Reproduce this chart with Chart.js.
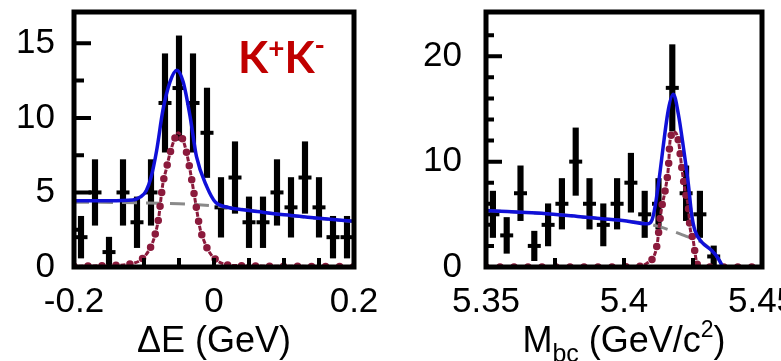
<!DOCTYPE html>
<html>
<head>
<meta charset="utf-8">
<script src="https://cdn.jsdelivr.net/npm/chart.js@4.4.1/dist/chart.umd.min.js"></script>
<style>
  html, body { margin: 0; padding: 0; background: #fff; }
  #wrap { position: relative; width: 781px; height: 361px; overflow: hidden; }
  canvas { position: absolute; top: 0; }
  #cDE { left: 0; }
  #cMbc { left: 390px; }
</style>
</head>
<body>
<div id="wrap">
  <canvas id="cDE" width="390" height="361"></canvas>
  <canvas id="cMbc" width="391" height="361"></canvas>
</div>
<script>
// ---- Delta E panel ----
var dEBins = [-0.19, -0.17, -0.15, -0.13, -0.11, -0.09, -0.07, -0.05, -0.03, -0.01,
              0.01, 0.03, 0.05, 0.07, 0.09, 0.11, 0.13, 0.15, 0.17, 0.19];
var dECounts = [2, 5, 1, 5, 3, 5, 11, 12, 11, 9, 4, 6, 3, 3, 5, 4, 6, 4, 2, 2];
var dEErr = [1.4, 2.2, 1.0, 2.2, 1.7, 2.2, 3.3, 3.5, 3.3, 3.0, 2.0, 2.4, 1.7, 1.7, 2.2, 2.0, 2.4, 2.0, 1.4, 1.4];

// total fit (blue)
var dETotalX = [-0.2, -0.15, -0.116, -0.105, -0.097, -0.09, -0.082, -0.073, -0.063, -0.053, -0.044,
                -0.034, -0.025, -0.01, 0.002, 0.019, 0.038, 0.062, 0.086, 0.11, 0.134, 0.158, 0.2];
var dETotalY = [4.45, 4.45, 4.5, 4.7, 5.1, 6.0, 7.8, 10.5, 12.4, 13.2, 12.4,
                10.05, 7.4, 5.36, 4.35, 4.01, 3.86, 3.72, 3.57, 3.46, 3.34, 3.23, 3.07];
// signal (dark red)
var dESigX = [-0.2, -0.15, -0.12, -0.1, -0.088, -0.084, -0.079, -0.076, -0.073, -0.068, -0.063, -0.057, -0.051,
              -0.046, -0.042, -0.037, -0.032, -0.027, -0.02, -0.013, -0.008, 0.0, 0.014, 0.03, 0.1, 0.2];
var dESigY = [0.05, 0.1, 0.2, 0.66, 1.6, 2.2, 3.3, 4.5, 5.6, 6.6, 7.6, 8.5, 9.0,
              8.7, 8.2, 7.2, 5.9, 4.5, 2.6, 1.6, 1.1, 0.6, 0.2, 0.1, 0.05, 0.02];
// background (grey dashed)
var dEBkgX = [-0.2, -0.1, -0.05, 0.0, 0.02, 0.05, 0.1, 0.15, 0.2];
var dEBkgY = [4.35, 4.3, 4.24, 4.1, 4.0, 3.8, 3.5, 3.25, 3.05];

var dEXTicks = [-0.2, 0, 0.2];
var dEYTicks = [0, 5, 10, 15];
var dEXMinor = [-0.15, -0.1, -0.05, 0, 0.05, 0.1, 0.15];
var dEYMajor = [5, 10, 15];
var dEYMinor = [2.5, 7.5, 12.5];

// ---- Mbc panel ----
var mbcBins = [5.3525, 5.3575, 5.3625, 5.3675, 5.3725, 5.3775, 5.3825, 5.3875, 5.3925,
               5.3975, 5.4025, 5.4075, 5.4125, 5.4175, 5.4225, 5.4275, 5.4325];
var mbcCounts = [5, 3, 7, 2, 4, 6, 10, 6, 4, 6, 8, 5, 6, 17, 7, 5, 1];
var mbcErr = [2.2, 1.7, 2.6, 1.4, 2.0, 2.4, 3.2, 2.4, 2.0, 2.4, 2.8, 2.2, 2.4, 4.1, 2.6, 2.2, 1.0];

var mbcTotalX = [5.35, 5.373, 5.385, 5.3995, 5.4085, 5.4102, 5.4179, 5.4197, 5.4215, 5.4233,
                 5.4245, 5.4257, 5.4282, 5.4318, 5.4342, 5.4358];
var mbcTotalY = [5.36, 5.04, 4.75, 4.41, 4.1, 4.5, 16.4, 14.5, 11.4, 7.9,
                 5.0, 3.46, 2.35, 1.56, 0.78, 0];
var mbcSigX = [5.35, 5.37, 5.39, 5.405, 5.4088, 5.4112, 5.4122, 5.413, 5.4137, 5.4149, 5.4161, 5.4167,
               5.4182, 5.4197, 5.4209, 5.4221, 5.4233, 5.4239, 5.4251, 5.4257, 5.4263, 5.4275, 5.44, 5.45];
var mbcSigY = [0, 0, 0, 0.05, 0.45, 1.25, 2.5, 4.4, 5.7, 7.25, 9.5, 12.0,
               12.8, 12.0, 9.5, 7.25, 5.7, 3.8, 2.5, 1.4, 0.45, 0, 0, 0];
var mbcBkgX = [5.35, 5.373, 5.385, 5.3995, 5.4085, 5.4124, 5.4203, 5.4257, 5.4282, 5.4318, 5.4342, 5.4358];
var mbcBkgY = [5.36, 5.04, 4.75, 4.41, 4.1, 3.85, 3.15, 2.6, 2.35, 1.56, 0.78, 0];

var mbcXTicks = [5.35, 5.4, 5.45];
var mbcYTicks = [0, 10, 20];
var mbcXMinor = [5.375, 5.4, 5.425];
var mbcYMajor = [10, 20];
var mbcYMinor = [2, 4, 6, 8, 12, 14, 16, 18, 22];

var FONT = "'Liberation Sans', Arial, Helvetica, sans-serif";
var BLUE = '#1010d8';
var MAROON = '#8b1a3c';
var GREY = '#8a8a8a';

function pts(xs, ys) {
  return xs.map(function (x, i) { return { x: x, y: ys[i] }; });
}
function errBars(xs, ns, es) {
  return xs.map(function (x, i) { return { x: x, y: [Math.max(0, ns[i] - es[i]), ns[i] + es[i]] }; });
}

// draws a row of text pieces (for sub/superscripts), centred on cx
function richText(ctx, pieces, cx, baseline) {
  var w = 0;
  pieces.forEach(function (p) { ctx.font = p.font; p.w = ctx.measureText(p.t).width; w += p.w; });
  var x = cx - w / 2;
  ctx.textAlign = 'left';
  ctx.textBaseline = 'alphabetic';
  pieces.forEach(function (p) {
    ctx.font = p.font;
    ctx.fillStyle = p.color || '#000';
    ctx.fillText(p.t, x, baseline + (p.dy || 0));
    x += p.w;
  });
}

// frame, inward ticks, axis title and labels
var panelDecor = {
  id: 'panelDecor',
  afterDatasetsDraw: function (chart, args, o) {
    var ctx = chart.ctx, a = chart.chartArea;
    var xs = chart.scales.x, ys = chart.scales.y;
    ctx.save();
    ctx.strokeStyle = '#000';
    ctx.lineWidth = 4;
    ctx.lineCap = 'butt';
    ctx.beginPath();
    o.yMajor.forEach(function (v) {
      var p = ys.getPixelForValue(v);
      ctx.moveTo(a.left, p); ctx.lineTo(a.left + o.yMajorLen, p);
    });
    o.yMinor.forEach(function (v) {
      var p = ys.getPixelForValue(v);
      ctx.moveTo(a.left, p); ctx.lineTo(a.left + o.yMinorLen, p);
    });
    o.xMinor.forEach(function (v) {
      var p = xs.getPixelForValue(v);
      ctx.moveTo(p, a.bottom); ctx.lineTo(p, a.bottom - o.xLen);
    });
    ctx.stroke();
    ctx.lineWidth = 5;
    ctx.strokeRect(a.left, a.top, a.right - a.left, a.bottom - a.top);

    richText(ctx, o.title, (a.left + a.right) / 2, 352);
    if (o.label) {
      var x = o.label.x;
      ctx.textAlign = 'left';
      ctx.textBaseline = 'alphabetic';
      ctx.fillStyle = o.label.color;
      o.label.pieces.forEach(function (p) {
        ctx.font = p.font;
        ctx.fillText(p.t, x, o.label.y + (p.dy || 0));
        x += ctx.measureText(p.t).width + (p.gap || 0);
      });
    }
    ctx.restore();
  }
};

function makePanel(id, cfg) {
  return new Chart(document.getElementById(id), {
    type: 'scatter',
    data: {
      datasets: [
        { type: 'line', data: pts(cfg.totX, cfg.totY), borderColor: BLUE, borderWidth: 3.5,
          pointRadius: 0, cubicInterpolationMode: 'monotone', fill: false, order: 0 },
        { type: 'line', data: pts(cfg.sigX, cfg.sigY), borderColor: MAROON, borderWidth: 7.5,
          borderCapStyle: 'round', borderDash: [0, 14], pointRadius: 0,
          cubicInterpolationMode: 'monotone', fill: false, order: 1 },
        { type: 'line', data: pts(cfg.sigX, cfg.sigY), borderColor: MAROON, borderWidth: 3,
          borderDash: [5, 9], borderDashOffset: 9.5, pointRadius: 0,
          cubicInterpolationMode: 'monotone', fill: false, order: 2 },
        { type: 'line', data: pts(cfg.bkgX, cfg.bkgY), borderColor: GREY, borderWidth: 3,
          borderDash: [15, 9], pointRadius: 0, cubicInterpolationMode: 'monotone', fill: false, order: 3 },
        { type: 'scatter', data: pts(cfg.bins, cfg.counts), pointStyle: 'line', pointRadius: 6.5,
          pointBorderColor: '#000', pointBorderWidth: 4, pointHoverRadius: 6.5, order: 4 },
        { type: 'bar', data: errBars(cfg.bins, cfg.counts, cfg.err), backgroundColor: '#000',
          borderWidth: 0, barThickness: 5.5, order: 5 }
      ]
    },
    options: {
      responsive: false,
      devicePixelRatio: 1,
      animation: false,
      events: [],
      layout: { padding: { top: 12, right: cfg.padRight, left: 0, bottom: 0 } },
      plugins: {
        legend: { display: false },
        tooltip: { enabled: false },
        panelDecor: cfg.decor
      },
      scales: {
        x: {
          type: 'linear', min: cfg.xMin, max: cfg.xMax, offset: false,
          grid: { display: false, drawTicks: false, offset: false },
          border: { display: false },
          ticks: { padding: 14, maxRotation: 0, autoSkip: false, color: '#000',
                   font: { family: FONT, size: 35 },
                   callback: function (v) { return String(+v.toFixed(3)); } },
          afterBuildTicks: function (s) { s.ticks = cfg.xTicks.map(function (v) { return { value: v }; }); },
          afterFit: function (s) { s.height = 94; s.paddingLeft = 0; s.paddingRight = 0; }
        },
        y: {
          type: 'linear', min: 0, max: cfg.yMax,
          grid: { display: false, drawTicks: false },
          border: { display: false },
          ticks: { padding: cfg.yPad, color: '#000', font: { family: FONT, size: 35 } },
          afterBuildTicks: function (s) { s.ticks = cfg.yTicks.map(function (v) { return { value: v }; }); },
          afterFit: function (s) { s.width = cfg.yWidth; s.paddingTop = 0; s.paddingBottom = 0; }
        }
      }
    },
    plugins: [panelDecor]
  });
}

makePanel('cDE', {
  bins: dEBins, counts: dECounts, err: dEErr,
  totX: dETotalX, totY: dETotalY, sigX: dESigX, sigY: dESigY, bkgX: dEBkgX, bkgY: dEBkgY,
  xMin: -0.2, xMax: 0.2, yMax: 17.1, xTicks: dEXTicks, yTicks: dEYTicks,
  padRight: 36, yWidth: 74, yPad: 19,
  decor: {
    xMinor: dEXMinor, yMajor: dEYMajor, yMinor: dEYMinor, yMajorLen: 17, yMinorLen: 10, xLen: 9,
    title: [{ t: '\u0394E (GeV)', font: '36px ' + FONT }],
    label: {
      x: 238, y: 73, color: '#c00000',
      pieces: [
        { t: 'K', font: 'bold 44px Lato, ' + FONT },
        { t: '+', font: 'bold 28px Lato, ' + FONT, dy: -15, gap: 0 },
        { t: 'K', font: 'bold 44px Lato, ' + FONT },
        { t: '-', font: 'bold 28px Lato, ' + FONT, dy: -18 }
      ]
    }
  }
});

makePanel('cMbc', {
  bins: mbcBins, counts: mbcCounts, err: mbcErr,
  totX: mbcTotalX, totY: mbcTotalY, sigX: mbcSigX, sigY: mbcSigY, bkgX: mbcBkgX, bkgY: mbcBkgY,
  xMin: 5.35, xMax: 5.45, yMax: 24.2, xTicks: mbcXTicks, yTicks: mbcYTicks,
  padRight: 19, yWidth: 96, yPad: 24,
  decor: {
    xMinor: mbcXMinor, yMajor: mbcYMajor, yMinor: mbcYMinor, yMajorLen: 16, yMinorLen: 8, xLen: 9,
    title: [
      { t: 'M', font: '36px ' + FONT },
      { t: 'bc', font: '25px ' + FONT, dy: 10 },
      { t: ' (GeV/c', font: '36px ' + FONT },
      { t: '2', font: '23px ' + FONT, dy: -15 },
      { t: ')', font: '36px ' + FONT }
    ]
  }
});
</script>
</body>
</html>
